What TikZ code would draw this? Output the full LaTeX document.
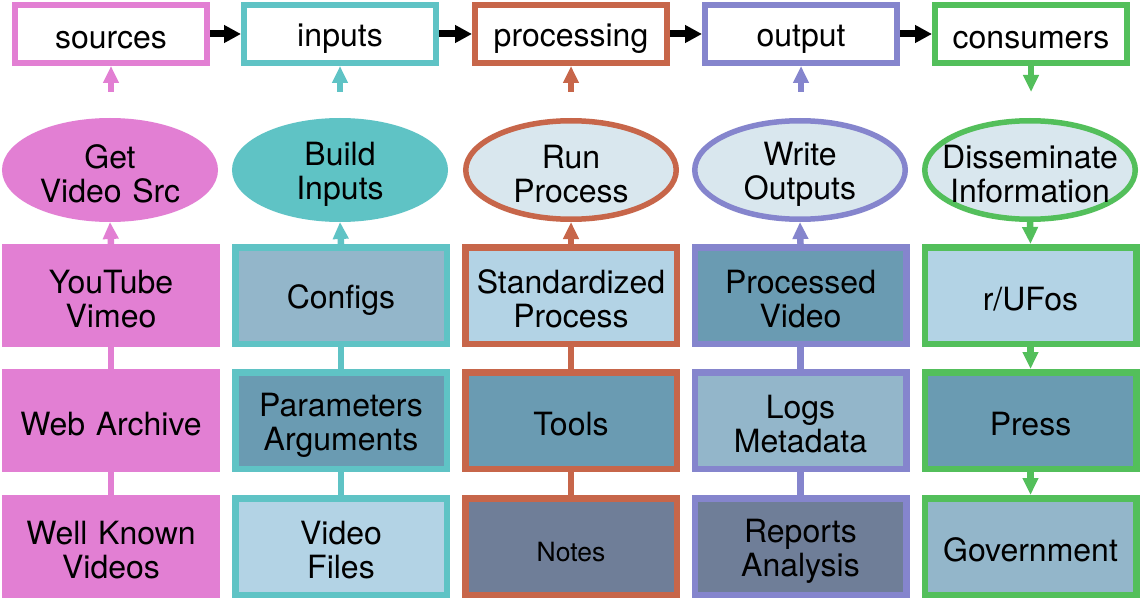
\documentclass[tikz,border=0pt]{standalone}
\usepackage{fontspec}
\setmainfont{TeX Gyre Heros}
\usetikzlibrary{arrows.meta,shapes.geometric}
\definecolor{cpink}{HTML}{E27FD3}
\definecolor{cteal}{HTML}{5FC3C5}
\definecolor{corange}{HTML}{C7664A}
\definecolor{cpurple}{HTML}{8585CD}
\definecolor{cgreen}{HTML}{53BF5B}
\definecolor{flight}{HTML}{B3D3E5}
\definecolor{fmed}{HTML}{93B6CA}
\definecolor{fdark}{HTML}{6A9BB2}
\definecolor{fdeep}{HTML}{6F7E98}
\definecolor{fell}{HTML}{D9E7EE}
\newcommand\mainfs{\fontsize{32}{34}\selectfont}
\newcommand\smallfs{\fontsize{26.5}{30}\selectfont}
\newcommand\topstrut{\rule{0pt}{32pt}}
\newcommand\smallstrut{\rule{0pt}{25pt}}
\newcommand\botstrut{\rule[-2pt]{0pt}{2pt}}
\begin{document}
\begin{tikzpicture}[x=1pt,y=-1pt,
  strutted/.style={execute at begin node=\topstrut, execute at end node=\botstrut},
  topbox/.style={draw=#1, line width=6pt, fill=white, minimum width=192pt,
    minimum height=58pt, inner sep=0pt, font=\mainfs, strutted},
  ellnode/.style 2 args={shape=ellipse, draw=#1, fill=#2, line width=5.5pt,
    minimum width=210.5pt, minimum height=98.5pt, inner sep=0pt},
  lbl/.style={align=center, text width=205pt, font=\mainfs, inner sep=0pt, strutted},
  stackbox/.style 2 args={draw=#1, fill=#2, line width=6.5pt, minimum width=211.5pt,
    minimum height=96.5pt, inner sep=0pt, align=center, text width=205pt,
    font=\mainfs, strutted},
  blk/.style={draw=black, line width=7pt, -{Triangle[length=17pt,width=17pt]}},
  sm/.style={draw=#1, line width=6.5pt, -{Triangle[length=17pt,width=15pt]}},
  lnk/.style={draw=#1, line width=6.5pt}
]
\useasboundingbox (0,0) rectangle (1141,599);
\fill[white] (0,0) rectangle (1141,599);

% top row
\node[topbox=cpink]   (t1) at (111,34) {sources};
\node[topbox=cteal]   (t2) at (340,34) {inputs};
\node[topbox=corange] (t3) at (571,34) {processing};
\node[topbox=cpurple] (t4) at (801,34) {output};
\node[topbox=cgreen]  (t5) at (1031,34) {consumers};

\draw[blk] (t1.east) -- (t2.west);
\draw[blk] (t2.east) -- (t3.west);
\draw[blk] (t3.east) -- (t4.west);
\draw[blk] (t4.east) -- (t5.west);

% ellipses
\node[ellnode={cpink}{cpink}, label={[lbl]center:Get\\Video Src}] (e1) at (110,170) {};
\node[ellnode={cteal}{cteal}, label={[lbl]center:Build\\Inputs}] (e2) at (340,170) {};
\node[ellnode={corange}{fell}, label={[lbl]center:Run\\Process}] (e3) at (571,170) {};
\node[ellnode={cpurple}{fell}, label={[lbl]center:Write\\Outputs}] (e4) at (800,170) {};
\node[ellnode={cgreen}{fell}, label={[lbl]center:Disseminate\\Information}] (e5) at (1030,170) {};

% short arrows between ellipses and top boxes
\coordinate (a1) at (111,92);
\coordinate (a2) at (340,92);
\coordinate (a3) at (571,92);
\coordinate (a4) at (801,92);
\coordinate (a5) at (1031,92);
\draw[sm=cpink] (a1) -- (t1.south);
\draw[sm=cteal] (a2) -- (t2.south);
\draw[sm=corange] (a3) -- (t3.south);
\draw[sm=cpurple] (a4) -- (t4.south);
\draw[sm=cgreen] (t5.south) -- (a5);

% stacked boxes
\node[stackbox={cpink}{cpink}] (b11) at (111,295.5) {YouTube\\Vimeo};
\node[stackbox={cpink}{cpink}] (b12) at (111,420.5) {Web Archive};
\node[stackbox={cpink}{cpink}] (b13) at (111,546.5) {Well Known\\Videos};

\node[stackbox={cteal}{fmed}]  (b21) at (341,295.5) {Configs};
\node[stackbox={cteal}{fdark}] (b22) at (341,420.5) {Parameters\\Arguments};
\node[stackbox={cteal}{flight}] (b23) at (341,546.5) {Video\\Files};

\node[stackbox={corange}{flight}] (b31) at (571,295.5) {Standardized\\Process};
\node[stackbox={corange}{fdark}]  (b32) at (571,420.5) {Tools};
\node[stackbox={corange}{fdeep}, font=\smallfs, execute at begin node=\smallstrut] (b33) at (571,546.5) {Notes};

\node[stackbox={cpurple}{fdark}] (b41) at (800.5,295.5) {Processed\\Video};
\node[stackbox={cpurple}{fmed}]  (b42) at (800.5,420.5) {Logs\\Metadata};
\node[stackbox={cpurple}{fdeep}] (b43) at (800.5,546.5) {Reports\\Analysis};

\node[stackbox={cgreen}{flight}] (b51) at (1030.5,295.5) {r/UFos};
\node[stackbox={cgreen}{fdark}]  (b52) at (1030.5,420.5) {Press};
\node[stackbox={cgreen}{fmed}]   (b53) at (1030.5,546.5) {Government};

% box to ellipse arrows
\draw[sm=cpink] (b11.north) -- (e1.south);
\draw[sm=cteal] (b21.north) -- (e2.south);
\draw[sm=corange] (b31.north) -- (e3.south);
\draw[sm=cpurple] (b41.north) -- (e4.south);
\draw[sm=cgreen] (e5.south) -- (b51.north);

% links in stacks
\draw[lnk=cpink] (b12.north) -- (b11.south);
\draw[lnk=cpink] (b13.north) -- (b12.south);
\draw[lnk=cteal] (b22.north) -- (b21.south);
\draw[lnk=cteal] (b23.north) -- (b22.south);
\draw[lnk=corange] (b32.north) -- (b31.south);
\draw[lnk=corange] (b33.north) -- (b32.south);
\draw[lnk=cpurple] (b42.north) -- (b41.south);
\draw[lnk=cpurple] (b43.north) -- (b42.south);
\draw[sm=cgreen] (b51.south) -- (b52.north);
\draw[sm=cgreen] (b52.south) -- (b53.north);
\end{tikzpicture}
\end{document}
